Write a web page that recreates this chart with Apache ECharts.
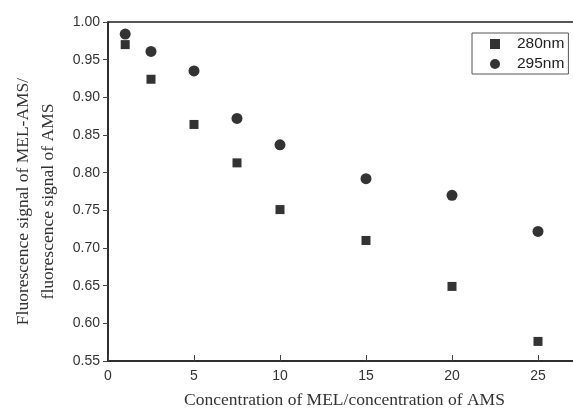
<!DOCTYPE html>
<html>
<head>
<meta charset="utf-8">
<script src="https://cdn.jsdelivr.net/npm/echarts@6/dist/echarts.min.js"></script>
<style>
  html, body { margin: 0; padding: 0; background: #fff; }
  #main { width: 573px; height: 410px; }
</style>
</head>
<body>
<div id="main"></div>
<script>
// ratio MEL/AMS
const ratios = [1, 2.5, 5, 7.5, 10, 15, 20, 25];
// relative fluorescence
const signal280 = [0.970, 0.924, 0.864, 0.813, 0.751, 0.710, 0.649, 0.576];
const signal295 = [0.984, 0.961, 0.935, 0.872, 0.837, 0.792, 0.770, 0.722];
const seriesNames = ["280nm", "295nm"];

const chart = echarts.init(document.getElementById("main"));

const toPoints = (ys) => ratios.map((x, i) => [x, ys[i]]);

const option = {
  animation: false,
  grid: {
    left: 108,
    top: 22,
    right: -8,
    bottom: 49,
    outerBoundsMode: "none",
    containLabel: false,
    show: true,
    borderColor: "#222",
    borderWidth: 1.5,
  },
  legend: {
    orient: "vertical",
    left: 472,
    top: 33,
    data: seriesNames,
    borderColor: "#555",
    borderWidth: 1,
    padding: [3, 4, 2, 18],
    itemGap: 4,
    itemWidth: 10,
    itemHeight: 10,
    textStyle: { fontFamily: "Liberation Sans", fontSize: 15.5, color: "#222", padding: [0, 0, 0, 12] },
  },
  xAxis: {
    type: "value",
    min: 0,
    max: 27.5,
    interval: 5,
    name: "Concentration of MEL/concentration of AMS",
    nameLocation: "middle",
    nameGap: 30,
    nameTextStyle: { fontFamily: "Liberation Serif", fontSize: 17.5, color: "#333" },
    axisLine: { lineStyle: { color: "#222", width: 1.5 } },
    axisTick: { inside: true, length: 6, lineStyle: { color: "#444" } },
    axisLabel: { fontFamily: "Liberation Sans", fontSize: 14, color: "#333", margin: 8, showMaxLabel: false },
    splitLine: { show: false },
  },
  yAxis: {
    type: "value",
    min: 0.55,
    max: 1.0,
    interval: 0.05,
    name: "Fluorescence signal of MEL-AMS/\nfluorescence signal of AMS",
    nameLocation: "middle",
    nameGap: 47,
    nameRotate: 90,
    nameTextStyle: {
      fontFamily: "Liberation Serif",
      fontSize: 17.5,
      color: "#333",
      lineHeight: 25,
      align: "center",
      padding: [0, 20, 0, 0],
    },
    axisLine: { show: true, lineStyle: { color: "#222", width: 1.5 } },
    axisTick: { show: true, length: 5, lineStyle: { color: "#444" } },
    axisLabel: {
      fontFamily: "Liberation Sans",
      fontSize: 14,
      color: "#333",
      margin: 8,
      formatter: (v) => v.toFixed(2),
    },
    splitLine: { show: false },
  },
  series: [
    {
      name: seriesNames[0],
      type: "scatter",
      symbol: "rect",
      symbolSize: 9,
      itemStyle: { color: "#000" },
      data: toPoints(signal280),
    },
    {
      name: seriesNames[1],
      type: "scatter",
      symbol: "circle",
      symbolSize: 11,
      itemStyle: { color: "#000" },
      data: toPoints(signal295),
    },
  ],
};

chart.setOption(option);
</script>
</body>
</html>
